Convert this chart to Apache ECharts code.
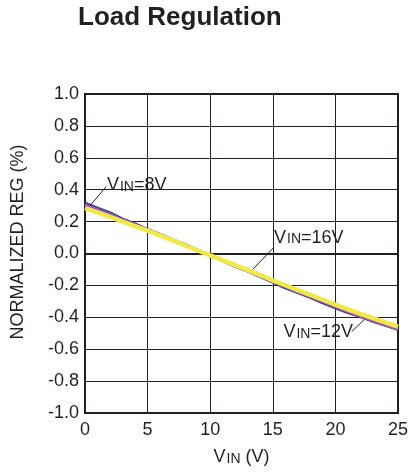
<!DOCTYPE html>
<html>
<head>
<meta charset="utf-8">
<script src="https://cdn.jsdelivr.net/npm/echarts@6/dist/echarts.min.js"></script>
<style>html,body{margin:0;padding:0;background:#fff}#c{width:411px;height:476px}</style>
</head>
<body>
<div id="c"></div>
<script>
const vin = [0,1,2,3,4,5,6,7,8,9,10,11,12,13,14,15,16,17,18,19,20,21,22,23,24,25];
const reg8V  = [0.315,0.285,0.255,0.215,0.185,0.150,0.120,0.085,0.055,0.020,-0.015,-0.045,-0.080,-0.110,-0.145,-0.180,-0.215,-0.245,-0.275,-0.310,-0.340,-0.370,-0.395,-0.425,-0.450,-0.475];
const reg12V = [0.305,0.275,0.245,0.210,0.180,0.150,0.118,0.085,0.053,0.020,-0.012,-0.044,-0.077,-0.108,-0.142,-0.175,-0.208,-0.240,-0.270,-0.302,-0.333,-0.365,-0.392,-0.420,-0.447,-0.475];
const reg16V = [0.285,0.258,0.230,0.200,0.172,0.143,0.113,0.082,0.050,0.019,-0.012,-0.042,-0.073,-0.104,-0.136,-0.168,-0.199,-0.230,-0.260,-0.290,-0.320,-0.350,-0.378,-0.405,-0.432,-0.458];
const xTicks = [0,5,10,15,20,25];
const yTicks = [-1.0,-0.8,-0.6,-0.4,-0.2,0.0,0.2,0.4,0.6,0.8,1.0];
const labels = [
  {name:'8',  at:[1.75,0.43],  lead:[[0.4,0.30],[1.7,0.42]]},
  {name:'16', at:[15.1,0.10],  lead:[[13.4,-0.10],[15.1,0.04]]},
  {name:'12', at:[15.85,-0.49],lead:[[21.3,-0.49],[22.3,-0.415]]}
];

const chart = echarts.init(document.getElementById('c'), null, {renderer:'canvas'});
const font = 'Liberation Sans, Arial, sans-serif';
const pair = (xs, ys) => xs.map((x,i)=>[x, ys[i]]);
const richSub = {
  m:{fontFamily:font, fontSize:18, color:'#231f20', lineHeight:18, verticalAlign:'top'},
  s:{fontFamily:font, fontSize:14, color:'#231f20', lineHeight:14, verticalAlign:'bottom', padding:[8,0,0,1]}
};

const annSeries = {
  type:'line', data:[], silent:true,
  markLine:{
    symbol:['none','none'], silent:true,
    lineStyle:{color:'#231f20', width:1, type:'solid'},
    label:{show:false},
    data: labels.map(l => [{coord:l.lead[0]},{coord:l.lead[1]}])
  },
  markPoint:{
    symbol:'circle', symbolSize:0, silent:true,
    label:{
      show:true, position:'right', distance:0,
      formatter: p => '{m|V}{s|IN}{m|=' + p.name + 'V}',
      rich: richSub
    },
    data: labels.map(l => ({name:l.name, coord:l.at}))
  }
};

chart.setOption({
  animation:false,
  backgroundColor:'#fff',
  grid:{left:85, right:7, top:94, bottom:63, show:true, borderColor:'#231f20', borderWidth:2, backgroundColor:'transparent'},
  xAxis:{
    type:'value', min:0, max:25, interval:5,
    axisLine:{show:true, lineStyle:{color:'#231f20', width:2}},
    axisTick:{show:false},
    axisLabel:{fontFamily:font, fontSize:18, color:'#231f20', margin:8, formatter:v=>xTicks.includes(v)?String(v):''},
    splitLine:{show:true, lineStyle:{color:'#231f20', width:1}},
    name:'{m|V}{s|IN}{m| (V)}', nameLocation:'middle', nameGap:34,
    nameTextStyle:{rich: richSub}
  },
  yAxis:{
    type:'value', min:-1, max:1, interval:0.2,
    axisLine:{show:true, lineStyle:{color:'#231f20', width:2}},
    axisTick:{show:false},
    axisLabel:{fontFamily:font, fontSize:18, color:'#231f20', margin:6, formatter:v=>{
      const t = yTicks.find(k=>Math.abs(k-v)<1e-6); return t===undefined?'':t.toFixed(1);}},
    splitLine:{show:true, lineStyle:{color:'#231f20', width:1}}
  },
  graphic:[
    {type:'text', left:78, top:5, style:{text:'Load Regulation', font:'bold 26px ' + font, fill:'#231f20'}},
    {type:'text', x:18, y:242, rotation:Math.PI/2, style:{text:'NORMALIZED REG (%)', font:'18px ' + font, fill:'#231f20', align:'center', verticalAlign:'middle'}}
  ],
  series:[
    {name:'8V', type:'line', data:pair(vin,reg8V), showSymbol:false, smooth:false, lineStyle:{color:'#3b3a8e', width:3}, z:2},
    {name:'12V', type:'line', data:pair(vin,reg12V), showSymbol:false, smooth:false, lineStyle:{color:'#a259b8', width:3}, z:3},
    {name:'16V', type:'line', data:pair(vin,reg16V), showSymbol:false, smooth:false, lineStyle:{color:'#f0ea48', width:4.5}, z:4},
    annSeries
  ]
});
</script>
</body>
</html>
